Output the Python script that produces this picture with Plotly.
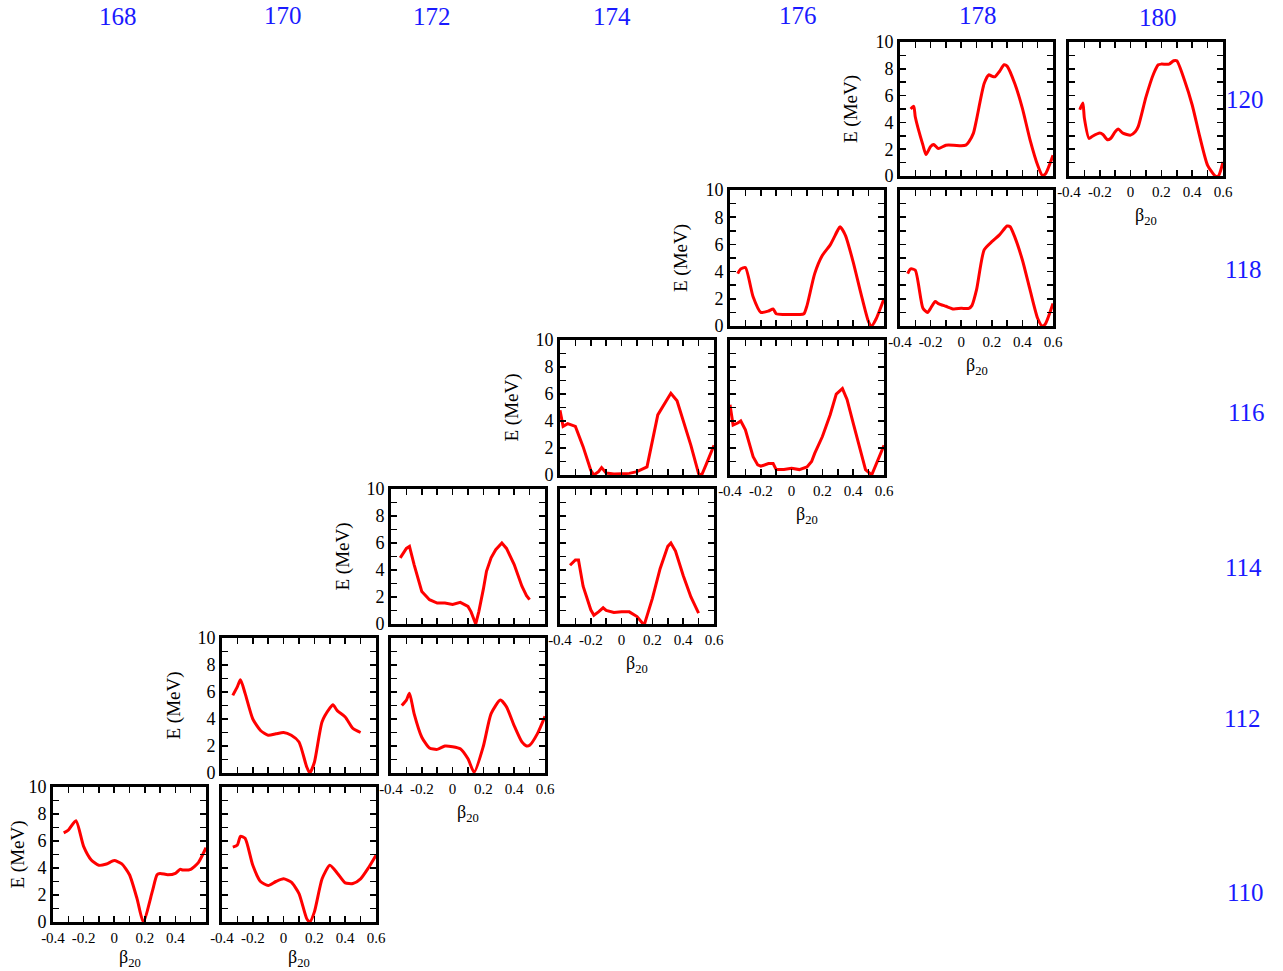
import plotly.graph_objects as go

# ---------------- data (beta_20, E in MeV) ----------------
beta_168_110 = [-0.33, -0.30, -0.25, -0.20, -0.15, -0.10, -0.05, 0.0, 0.05, 0.10, 0.15, 0.19, 0.25, 0.28, 0.30, 0.35, 0.40, 0.43, 0.45, 0.50, 0.55, 0.60]
E_168_110 = [6.6, 6.8, 7.5, 5.6, 4.6, 4.2, 4.3, 4.55, 4.3, 3.5, 1.7, 0.0, 2.3, 3.5, 3.6, 3.5, 3.6, 3.9, 3.85, 3.9, 4.4, 5.5]

beta_170_110 = [-0.33, -0.30, -0.28, -0.25, -0.20, -0.15, -0.10, -0.05, 0.0, 0.05, 0.10, 0.15, 0.17, 0.20, 0.25, 0.30, 0.35, 0.40, 0.45, 0.50, 0.55, 0.60]
E_170_110 = [5.55, 5.7, 6.35, 6.2, 4.2, 3.0, 2.7, 3.0, 3.2, 2.95, 2.1, 0.25, 0.0, 0.75, 3.2, 4.2, 3.6, 2.9, 2.85, 3.2, 4.0, 4.95]

beta_170_112 = [-0.33, -0.30, -0.28, -0.25, -0.20, -0.15, -0.10, -0.05, 0.0, 0.05, 0.10, 0.15, 0.17, 0.20, 0.25, 0.30, 0.32, 0.35, 0.40, 0.45, 0.50]
E_170_112 = [5.75, 6.4, 6.9, 5.9, 4.0, 3.15, 2.8, 2.9, 3.0, 2.8, 2.3, 0.45, 0.0, 0.8, 3.8, 4.8, 5.05, 4.6, 4.15, 3.3, 3.0]

beta_172_112 = [-0.33, -0.30, -0.28, -0.25, -0.20, -0.15, -0.10, -0.05, 0.0, 0.05, 0.10, 0.14, 0.20, 0.25, 0.31, 0.35, 0.40, 0.45, 0.48, 0.50, 0.55, 0.60]
E_172_112 = [5.0, 5.4, 5.9, 4.4, 2.65, 1.85, 1.75, 2.0, 1.95, 1.8, 1.05, 0.05, 2.0, 4.4, 5.4, 4.9, 3.5, 2.3, 2.0, 2.05, 2.9, 4.2]

beta_172_114 = [-0.34, -0.30, -0.28, -0.25, -0.20, -0.15, -0.10, -0.05, 0.0, 0.03, 0.05, 0.10, 0.12, 0.15, 0.17, 0.20, 0.22, 0.25, 0.28, 0.32, 0.35, 0.40, 0.45, 0.48, 0.50]
E_172_114 = [4.9, 5.6, 5.75, 4.4, 2.4, 1.8, 1.55, 1.55, 1.45, 1.55, 1.6, 1.3, 0.9, 0.0, 0.9, 2.6, 3.9, 4.9, 5.5, 6.0, 5.6, 4.4, 2.8, 2.1, 1.8]

beta_174_114 = [-0.335, -0.30, -0.28, -0.25, -0.20, -0.18, -0.15, -0.12, -0.10, -0.05, 0.0, 0.05, 0.10, 0.14, 0.15, 0.20, 0.25, 0.30, 0.32, 0.35, 0.40, 0.45, 0.50]
E_174_114 = [4.35, 4.75, 4.75, 2.8, 1.05, 0.65, 0.9, 1.2, 1.0, 0.85, 0.9, 0.9, 0.55, 0.0, 0.05, 1.9, 4.1, 5.75, 6.0, 5.4, 3.6, 2.0, 0.8]

beta_174_116 = [-0.40, -0.38, -0.35, -0.30, -0.25, -0.20, -0.18, -0.15, -0.13, -0.10, -0.05, 0.0, 0.05, 0.10, 0.14, 0.165, 0.235, 0.29, 0.32, 0.36, 0.40, 0.45, 0.50, 0.52, 0.55, 0.60]
E_174_116 = [4.8, 3.6, 3.8, 3.6, 2.1, 0.35, 0.0, 0.25, 0.55, 0.15, 0.07, 0.07, 0.12, 0.25, 0.45, 0.6, 4.45, 5.45, 6.05, 5.5, 4.0, 2.2, 0.1, 0.0, 0.8, 2.2]

beta_176_116 = [-0.40, -0.38, -0.35, -0.33, -0.30, -0.25, -0.22, -0.20, -0.15, -0.12, -0.10, -0.05, 0.0, 0.05, 0.10, 0.13, 0.15, 0.20, 0.25, 0.29, 0.33, 0.36, 0.40, 0.45, 0.48, 0.52, 0.55, 0.60]
E_176_116 = [5.2, 3.7, 3.85, 4.0, 3.35, 1.35, 0.75, 0.65, 0.85, 0.85, 0.4, 0.4, 0.5, 0.4, 0.6, 1.0, 1.6, 2.85, 4.45, 6.0, 6.4, 5.6, 3.85, 1.75, 0.4, 0.0, 0.85, 2.2]

beta_176_118 = [-0.35, -0.33, -0.30, -0.25, -0.20, -0.15, -0.12, -0.10, -0.05, 0.0, 0.05, 0.08, 0.10, 0.15, 0.20, 0.25, 0.30, 0.315, 0.35, 0.40, 0.45, 0.50, 0.52, 0.55, 0.60]
E_176_118 = [3.85, 4.2, 4.3, 2.15, 1.0, 1.1, 1.25, 0.9, 0.85, 0.85, 0.85, 0.9, 1.5, 3.85, 5.2, 5.95, 7.05, 7.3, 6.65, 4.7, 2.4, 0.3, 0.0, 0.55, 2.0]

beta_178_118 = [-0.35, -0.33, -0.30, -0.25, -0.22, -0.20, -0.17, -0.15, -0.10, -0.05, 0.0, 0.05, 0.07, 0.10, 0.15, 0.20, 0.25, 0.30, 0.32, 0.35, 0.40, 0.45, 0.50, 0.53, 0.55, 0.60]
E_178_118 = [3.85, 4.2, 4.1, 1.3, 1.0, 1.3, 1.8, 1.65, 1.45, 1.25, 1.3, 1.3, 1.5, 2.65, 5.6, 6.2, 6.7, 7.35, 7.3, 6.55, 4.85, 2.65, 0.55, 0.0, 0.15, 1.65]

beta_178_120 = [-0.33, -0.31, -0.30, -0.25, -0.23, -0.20, -0.18, -0.15, -0.10, -0.05, 0.0, 0.03, 0.05, 0.08, 0.10, 0.15, 0.18, 0.20, 0.22, 0.25, 0.28, 0.30, 0.35, 0.40, 0.45, 0.50, 0.53, 0.55, 0.60]
E_178_120 = [5.0, 5.2, 4.4, 2.3, 1.6, 2.2, 2.35, 2.05, 2.3, 2.3, 2.25, 2.3, 2.55, 3.2, 4.2, 6.9, 7.55, 7.45, 7.4, 7.8, 8.3, 8.2, 6.9, 5.05, 2.7, 0.8, 0.05, 0.15, 1.55]

beta_180_120 = [-0.33, -0.31, -0.30, -0.27, -0.25, -0.20, -0.18, -0.15, -0.13, -0.10, -0.08, -0.05, 0.0, 0.03, 0.05, 0.10, 0.15, 0.18, 0.20, 0.25, 0.28, 0.30, 0.35, 0.40, 0.45, 0.50, 0.55, 0.57, 0.60]
E_180_120 = [4.95, 5.45, 4.3, 2.8, 2.95, 3.2, 3.1, 2.7, 2.8, 3.3, 3.5, 3.2, 3.05, 3.3, 3.7, 5.9, 7.65, 8.3, 8.35, 8.35, 8.6, 8.6, 7.15, 5.3, 2.9, 0.8, 0.0, 0.0, 1.05]

col_labels = ["168", "170", "172", "174", "176", "178", "180"]
row_labels = ["110", "112", "114", "116", "118", "120"]
x_ticks = [-0.4, -0.2, 0, 0.2, 0.4, 0.6]
x_ticktext = ["-0.4", "-0.2", "0", "0.2", "0.4", "0.6"]
y_ticks = [0, 2, 4, 6, 8, 10]

# ---------------- layout geometry (page pixels) ----------------
W, H = 1283, 971


def fx(px):
    return px / W


def fy(py):
    return 1 - py / H


col_px = {"168": (53, 206), "170": (222, 376), "172": (391, 545), "174": (560, 714),
          "176": (730, 884), "178": (900, 1053), "180": (1069, 1223)}
row_px = {"110": (787, 922), "112": (638, 773), "114": (489, 624), "116": (340, 475),
          "118": (190, 326), "120": (42, 176)}
col_label_pos = {"168": (118, 17), "170": (283, 16), "172": (432, 17), "174": (612, 17),
                 "176": (798, 16), "178": (978, 16), "180": (1158, 18)}
row_label_pos = {"120": (1245, 99), "118": (1243, 269), "116": (1246, 412), "114": (1243, 567),
                 "112": (1242, 718), "110": (1245, 892)}

# panel: (col, row, beta, E, show_xlabels, show_ylabels, smooth)
panels = [
    ("168", "110", beta_168_110, E_168_110, True, True, True),
    ("170", "110", beta_170_110, E_170_110, True, False, True),
    ("170", "112", beta_170_112, E_170_112, False, True, True),
    ("172", "112", beta_172_112, E_172_112, True, False, True),
    ("172", "114", beta_172_114, E_172_114, False, True, False),
    ("174", "114", beta_174_114, E_174_114, True, False, False),
    ("174", "116", beta_174_116, E_174_116, False, True, False),
    ("176", "116", beta_176_116, E_176_116, True, False, False),
    ("176", "118", beta_176_118, E_176_118, False, True, True),
    ("178", "118", beta_178_118, E_178_118, True, False, True),
    ("178", "120", beta_178_120, E_178_120, False, True, True),
    ("180", "120", beta_180_120, E_180_120, True, False, True),
]

SERIF = "Liberation Serif, Times New Roman, serif"
fig = go.Figure()
annotations = []
layout = dict(width=W, height=H, margin=dict(l=0, r=0, t=0, b=0, pad=0, autoexpand=False),
              paper_bgcolor="white", plot_bgcolor="white", showlegend=False)

for i, (c, r, bx, ey, showx, showy, smooth) in enumerate(panels, start=1):
    x0, x1 = col_px[c]
    y0, y1 = row_px[r]
    xa = "x" if i == 1 else f"x{i}"
    ya = "y" if i == 1 else f"y{i}"
    line = dict(color="#ff0000", width=3)
    if smooth:
        line.update(shape="spline", smoothing=0.6)
    fig.add_trace(go.Scatter(x=bx, y=ey, mode="lines", line=line, xaxis=xa, yaxis=ya,
                             hoverinfo="skip", cliponaxis=True))
    tv = x_ticks if c != "168" else x_ticks[:-1]
    tt = x_ticktext if c != "168" else x_ticktext[:-1]
    layout["xaxis" if i == 1 else f"xaxis{i}"] = dict(
        domain=[fx(x0), fx(x1)], range=[-0.4, 0.6], anchor=ya, automargin=False,
        showline=True, linecolor="black", linewidth=3, mirror="allticks",
        ticks="inside", ticklen=6, tickwidth=1.5, tickcolor="black",
        tickvals=tv, ticktext=tt, showticklabels=showx,
        tickfont=dict(family=SERIF, size=15, color="black"),
        minor=dict(dtick=0.1, tick0=0, ticks="inside", ticklen=6, tickwidth=1.5, tickcolor="black"),
        showgrid=False, zeroline=False, fixedrange=True)
    layout["yaxis" if i == 1 else f"yaxis{i}"] = dict(
        domain=[fy(y1), fy(y0)], range=[0, 10], anchor=xa, automargin=False,
        showline=True, linecolor="black", linewidth=3, mirror="allticks",
        ticks="inside", ticklen=6, tickwidth=1.5, tickcolor="black",
        tickvals=y_ticks, showticklabels=showy,
        tickfont=dict(family=SERIF, size=18, color="black"),
        minor=dict(dtick=1, tick0=0, ticks="inside", ticklen=6, tickwidth=1.5, tickcolor="black"),
        showgrid=False, zeroline=False, fixedrange=True)
    if showy:
        annotations.append(dict(text="E (MeV)", xref="paper", yref="paper",
                                x=fx(max(x0 - 49, 17)), y=fy((y0 + y1) / 2), textangle=-90,
                                showarrow=False, xanchor="center", yanchor="middle",
                                font=dict(family=SERIF, size=19, color="black")))
    if showx:
        dy = 36 if r == "110" else 40
        annotations.append(dict(text="β<sub>20</sub>", xref="paper", yref="paper",
                                x=fx((x0 + x1) / 2), y=fy(y1 + dy),
                                showarrow=False, xanchor="center", yanchor="middle",
                                borderpad=0,
                                font=dict(family=SERIF, size=18, color="black")))

for c in col_labels:
    px, py = col_label_pos[c]
    annotations.append(dict(text=c, xref="paper", yref="paper", x=fx(px), y=fy(py),
                            showarrow=False, xanchor="center", yanchor="middle", borderpad=0,
                            font=dict(family=SERIF, size=25, color="#1a1aff")))
for r in row_labels:
    px, py = row_label_pos[r]
    annotations.append(dict(text=r, xref="paper", yref="paper", x=fx(px), y=fy(py),
                            showarrow=False, xanchor="center", yanchor="middle", borderpad=0,
                            font=dict(family=SERIF, size=25, color="#1a1aff")))

layout["annotations"] = annotations
fig.update_layout(**layout)
# remove the default page margin so the figure fills the browser window exactly
fig.write_html("out.html",
               config={"displayModeBar": False, "staticPlot": True},
               post_script="document.body.style.margin='0px';document.body.style.overflow='hidden';")
